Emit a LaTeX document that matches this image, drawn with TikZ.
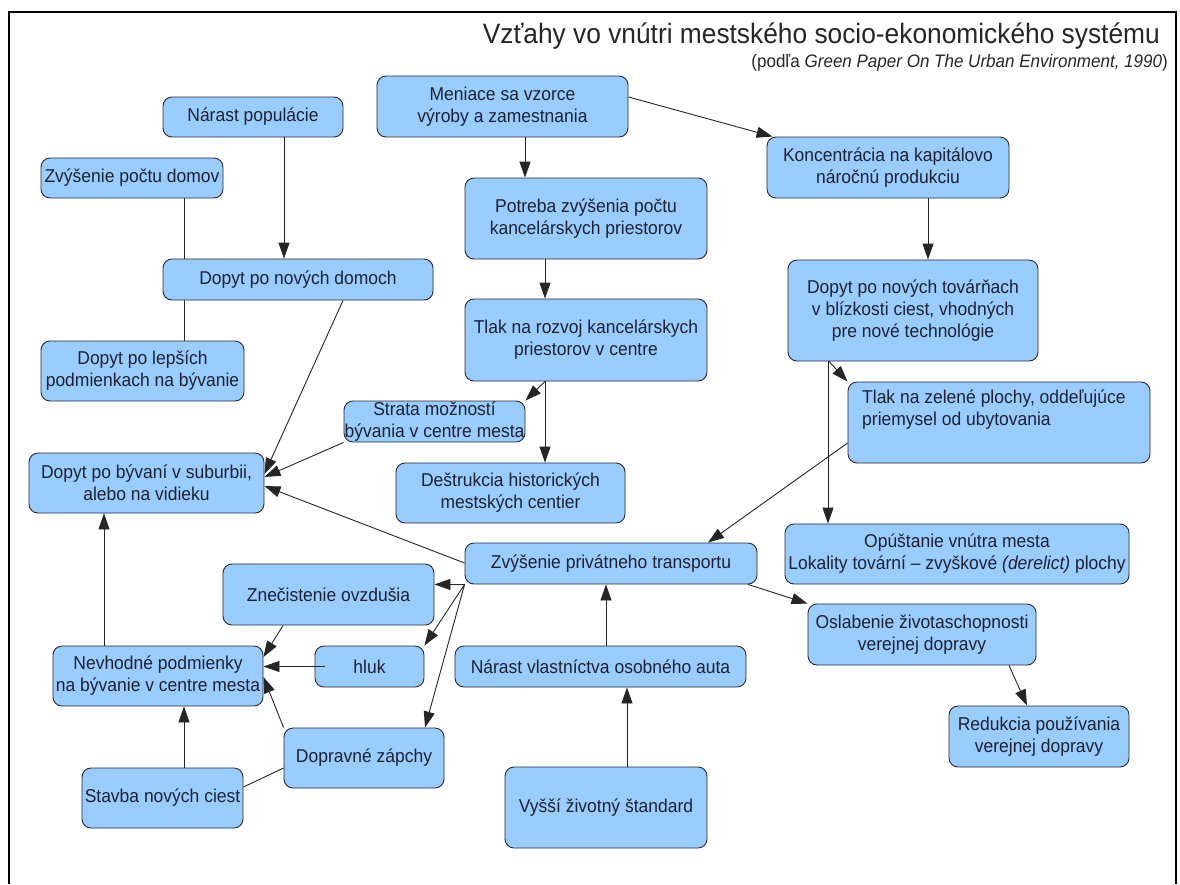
\documentclass[tikz,border=0pt]{standalone}
\usepackage{fontspec}
\setmainfont{Liberation Sans}[FakeStretch=0.94]
\usetikzlibrary{arrows.meta,calc}
\definecolor{boxfill}{HTML}{99CCFF}
\definecolor{boxline}{HTML}{2A2A33}
\definecolor{txt}{HTML}{1E2230}
\begin{document}
\begin{tikzpicture}[x=1pt,y=-1pt,
  box/.style={draw=boxline, fill=boxfill, rounded corners=9pt, line width=0.9pt,
    align=center, inner sep=0pt, text=txt, font=\fontsize{18.6}{22}\selectfont},
  conn/.style={draw=black!85, line width=0.9pt},
  arr/.style={conn, -{Triangle[length=16pt,width=11pt]}}]
\useasboundingbox (0,0) rectangle (1180,884);
\fill[white] (0,0) rectangle (1180,884);
\draw[line width=1.2pt, black] (9,884) -- (9,12) -- (1176,12) -- (1176,884);

\node[anchor=base east, inner sep=0pt, text=black!85, font=\fontsize{28}{30}\selectfont] (title) at (1160,43)
  {Vzťahy vo vnútri mestského socio-ekonomického systému};
\node[anchor=base east, inner sep=0pt, text=black!85, font=\fontsize{18.1}{20}\selectfont] (subtitle) at (1168,67)
  {(podľa \textit{Green Paper On The Urban Environment, 1990})};

\node[box, minimum width=180, minimum height=40] (narast) at (253,117) {Nárast populácie};
\node[box, minimum width=251, minimum height=61] (meniace) at (502.5,106.5) {Meniace sa vzorce\\výroby a zamestnania};
\node[box, minimum width=182, minimum height=40] (zvysdomov) at (132,178) {Zvýšenie počtu domov};
\node[box, minimum width=242, minimum height=81] (potreba) at (586,218.5) {Potreba zvýšenia počtu\\kancelárskych priestorov};
\node[box, minimum width=242, minimum height=61] (koncent) at (888,167.5) {Koncentrácia na kapitálovo\\náročnú produkciu};
\node[box, minimum width=270, minimum height=41] (dopdomoch) at (298,279.5) {Dopyt po nových domoch};
\node[box, minimum width=250, minimum height=101] (doptovarn) at (913,310.5) {Dopyt po nových továrňach\\v blízkosti ciest, vhodných\\pre nové technológie};
\node[box, minimum width=203, minimum height=60] (lepsich) at (142.5,371) {Dopyt po lepších\\podmienkach na bývanie};
\node[box, minimum width=242, minimum height=82] (tlakrozvoj) at (586,340) {Tlak na rozvoj kancelárskych\\priestorov v centre};
\node[box, minimum width=181, minimum height=41] (strata) at (434.5,421.5) {Strata možností\\bývania v centre mesta};
\node[box, minimum width=302, minimum height=81] (zelene) at (999,422.5) {};
\node[anchor=north west, inner sep=0pt, align=left, text=txt, font=\fontsize{18.6}{22}\selectfont] (zelenetext) at (862,390)
  {Tlak na zelené plochy, oddeľujúce\\priemysel od ubytovania};
\node[box, minimum width=235, minimum height=60] (suburbii) at (146.5,483) {Dopyt po bývaní v suburbii,\\alebo na vidieku};
\node[box, minimum width=229, minimum height=60] (destrukcia) at (510.5,493) {Deštrukcia historických\\mestských centier};
\node[box, minimum width=344, minimum height=60] (opustanie) at (957,554) {Opúštanie vnútra mesta\\Lokality tovární – zvyškové \textit{(derelict)} plochy};
\node[box, minimum width=292, minimum height=41] (zvyspriv) at (611,563.5) {Zvýšenie privátneho transportu};
\node[box, minimum width=211, minimum height=61] (znecist) at (328.5,594.5) {Znečistenie ovzdušia};
\node[box, minimum width=228, minimum height=61] (oslabenie) at (922,634.5) {Oslabenie životaschopnosti\\verejnej dopravy};
\node[box, minimum width=210, minimum height=60] (nevhodne) at (158,676) {Nevhodné podmienky\\na bývanie v centre mesta};
\node[box, minimum width=109, minimum height=41] (hluk) at (369.5,666.5) {hluk};
\node[box, minimum width=291, minimum height=41] (narastvl) at (600.5,666.5) {Nárast vlastníctva osobného auta};
\node[box, minimum width=180, minimum height=61] (redukcia) at (1039,736.5) {Redukcia používania\\verejnej dopravy};
\node[box, minimum width=160, minimum height=60] (dopravne) at (364,758) {Dopravné zápchy};
\node[box, minimum width=161, minimum height=60] (stavba) at (162.5,798) {Stavba nových ciest};
\node[box, minimum width=202, minimum height=81] (vyssi) at (606,807.5) {Vyšší životný štandard};

% connectors
\draw[arr] (narast.south -| 284,0) -- (dopdomoch.north -| 284,0);
\draw[conn] (zvysdomov.south -| 184,0) -- (dopdomoch.north -| 184,0);
\draw[conn] (dopdomoch.south -| 184,0) -- (lepsich.north -| 184,0);
\draw[arr] (dopdomoch.south -| 343,0) -- (suburbii.east |- 0,474);
\draw[arr] (meniace.south -| 525,0) -- (potreba.north -| 525,0);
\draw[arr] (meniace.east |- 0,97) -- ([xshift=6]koncent.north west);
\draw[arr] (potreba.south -| 545,0) -- (tlakrozvoj.north -| 545,0);
\draw[arr] (tlakrozvoj.south -| 545,0) -- (strata.north east);
\draw[arr] (tlakrozvoj.south -| 545,0) -- (destrukcia.north -| 545,0);
\draw[arr] (strata.south west) -- (suburbii.east |- 0,477);
\draw[arr] (zvyspriv.west |- 0,563) -- (suburbii.east |- 0,486);
\draw[arr] (koncent.south -| 928,0) -- (doptovarn.north -| 928,0);
\draw[arr] (doptovarn.south -| 829,0) -- (zelene.north west);
\draw[arr] (doptovarn.south -| 828,0) -- (opustanie.north -| 828,0);
\draw[arr] (zelene.west |- 0,443) -- (zvyspriv.north -| 708,0);
\draw[arr] (zvyspriv.south -| 748,0) -- (oslabenie.north west);
\draw[arr] (oslabenie.south -| 1009,0) -- (redukcia.north -| 1027,0);
\draw[arr] (narastvl.north -| 606,0) -- (zvyspriv.south -| 606,0);
\draw[arr] (vyssi.north -| 627,0) -- (narastvl.south -| 627,0);
\draw[arr] (zvyspriv.south west) -- (znecist.east |- zvyspriv.south west);
\draw[arr] (zvyspriv.south west) -- (hluk.north east);
\draw[arr] (zvyspriv.south west) -- (dopravne.north -| 425,0);
\draw[arr] (znecist.south -| 283,0) -- (nevhodne.east |- 0,657);
\draw[arr] ([xshift=10]hluk.west) -- (nevhodne.east |- hluk.west);
\draw[arr] (dopravne.north west) -- (nevhodne.east |- 0,677);
\draw[arr] (stavba.north -| 184,0) -- (nevhodne.south -| 184,0);
\draw[conn] (stavba.east |- 0,787) -- (dopravne.west |- 0,768);
\draw[arr] (nevhodne.north -| 104,0) -- (suburbii.south -| 104,0);
\end{tikzpicture}
\end{document}
